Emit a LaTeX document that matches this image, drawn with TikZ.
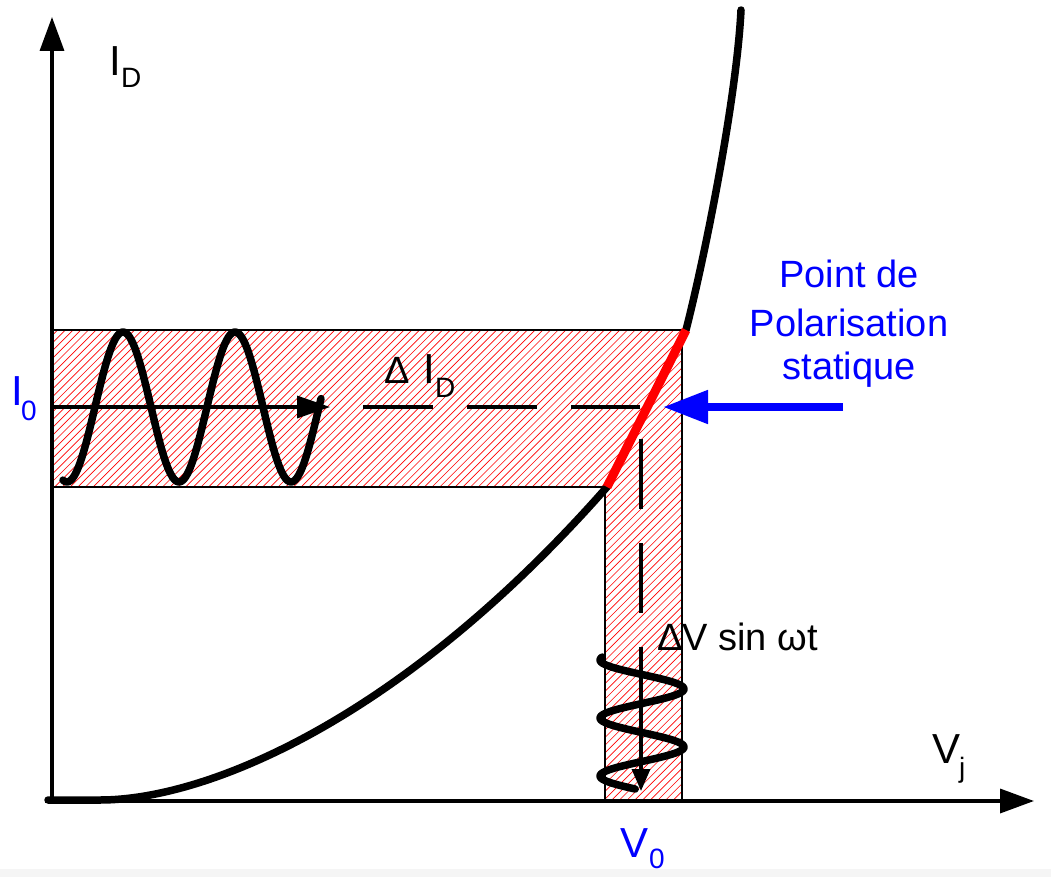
\documentclass[tikz,border=0pt]{standalone}
\usepackage{fontspec}
\setmainfont{Liberation Sans}
\usetikzlibrary{arrows.meta}
\definecolor{stripgray}{RGB}{245,245,245}
\definecolor{pureblue}{RGB}{0,0,255}
\definecolor{purered}{RGB}{255,0,0}
\begin{document}
\begin{tikzpicture}[x=1pt,y=-1pt,
  axisline/.style={line width=3.5pt},
  bigtip/.style={-{Triangle[length=34pt,width=24pt]}},
  hatchline/.style={purered, line width=0.65pt},
  border/.style={line width=1.8pt},
  thickcurve/.style={line width=7.5pt, line cap=round, line join=round},
  sinecurve/.style={line width=7.5pt, line cap=round, line join=round},
  dashline/.style={line width=3.5pt, dash pattern=on 70pt off 34pt},
  lab/.style={font=\fontsize{42}{50}\selectfont, inner sep=0pt, anchor=base west},
  sublab/.style={font=\fontsize{28}{34}\selectfont, inner sep=0pt, anchor=base west},
  bluetext/.style={font=\fontsize{38}{46}\selectfont, inner sep=0pt, anchor=base, text=pureblue},
  mid/.style={font=\fontsize{38}{46}\selectfont, inner sep=0pt, anchor=base west}
]
\useasboundingbox (0,0) rectangle (1051,877);
\fill[white] (0,0) rectangle (1051,877);
\fill[stripgray] (0,869) rectangle (1051,877);

% hatched L-shaped band
\begin{scope}
  \clip (52,330) -- (682,330) -- (682,801) -- (605,801) -- (605,487) -- (52,487) -- cycle;
  \foreach \c in {380,387.7,...,1495} \draw[hatchline] (\c,0) -- (\c-900,900);
\end{scope}
\draw[border] (52,330) -- (682,330) -- (682,801);
\draw[border] (605,801) -- (605,487) -- (52,487);

% characteristic curve
\coordinate (Cstart) at (48,800);
\coordinate (Cflat) at (100,800);
\coordinate (Rlow) at (607,487);
\coordinate (Rhigh) at (686,330);
\coordinate (Ctop) at (741,10);
\draw[thickcurve] (Cstart) -- (Cflat) .. controls (205,800) and (400,722) .. (Rlow);
\draw[thickcurve] (Rhigh) .. controls (704,260) and (736.5,100) .. (Ctop);

% red operating segment
\draw[purered, line width=9pt] (Rlow) -- (Rhigh);

% axes
\coordinate (O) at (52,803);
\coordinate (Ytip) at (52,17);
\coordinate (Xstart) at (45,801);
\coordinate (Xtip) at (1034,801);
\draw[axisline, bigtip] (O) -- (Ytip);
\draw[axisline, bigtip] (Xstart) -- (Xtip);

% horizontal time axis with sinusoid
\coordinate (Hstart) at (52,407);
\coordinate (Htip) at (330,407);
\draw[line width=3.5pt, -{Triangle[length=33pt,width=22pt]}] (Hstart) -- (Htip);
\coordinate (HDa) at (363,407);
\coordinate (HDb) at (640,407);
\draw[dashline] (HDa) -- (HDb);
\draw[sinecurve] plot[domain=63:321, samples=140, smooth] (\x, {407 + 75*cos(3.2142857*(\x-67))});

% vertical time axis with sinusoid
\coordinate (VDa) at (641,439);
\coordinate (VDb) at (641,613);
\draw[dashline] (VDa) -- (VDb);
\coordinate (Vstart) at (641,647);
\coordinate (Vtip) at (641,791);
\draw[line width=3.5pt, -{Triangle[length=22pt,width=18pt]}] (Vstart) -- (Vtip);
\draw[sinecurve] plot[domain=657:789, samples=140, smooth] ({642 - 42*cos(6.2068966*(\x-660))}, \x);

% blue arrow
\coordinate (Bstart) at (843,407);
\coordinate (Btip) at (663,407);
\draw[pureblue, line width=8pt, -{Triangle[length=45pt,width=32pt]}] (Bstart) -- (Btip);

% labels
\node[lab] (ID) at (109,76) {I};
\node[sublab] (IDsub) at (121,88) {D};
\node[lab, text=pureblue] (I0) at (11,405) {I};
\node[sublab, text=pureblue] (I0sub) at (21,420) {0};
\node[mid] (dI) at (384,383) {Δ};
\node[lab] (dII) at (423,383) {I};
\node[sublab] (dIsub) at (435,397) {D};
\node[lab, text=pureblue] (V0) at (620,857) {V};
\node[sublab, text=pureblue] (V0sub) at (649,868) {0};
\node[lab] (Vj) at (932,763) {V};
\node[sublab] (Vjsub) at (959,777) {j};
\node[mid] (dV) at (657,650) {ΔV sin ωt};
\node[bluetext] (P1) at (849,287) {Point de};
\node[bluetext] (P2) at (849,336) {Polarisation};
\node[bluetext] (P3) at (849,379) {statique};
\end{tikzpicture}
\end{document}
